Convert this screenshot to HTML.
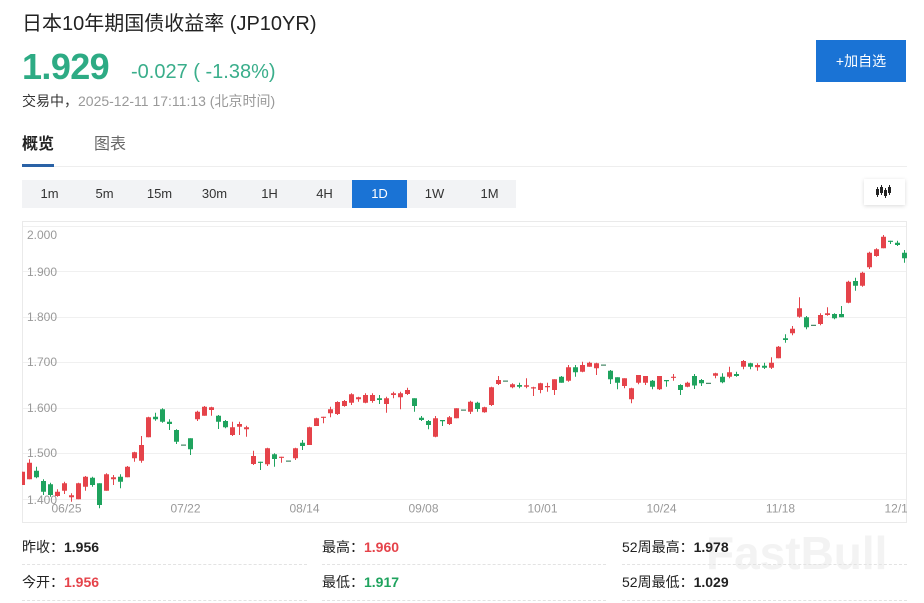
<!DOCTYPE html>
<html><head><meta charset="utf-8">
<style>
*{margin:0;padding:0;box-sizing:border-box}
html,body{width:924px;height:603px;background:#fff;overflow:hidden;font-family:"Liberation Sans","Noto Sans CJK SC",sans-serif;color:#333}
.a{position:absolute;white-space:nowrap}
.tf{position:absolute;top:180px;height:28px;width:55px;text-align:center;line-height:28px;font-size:13px;color:#333}
.st{position:absolute;font-size:14px;line-height:20px;color:#222}
.st b{font-weight:bold}
.dl{position:absolute;height:0;border-top:1px dashed #e3e3e3}
</style></head><body>
<div class="a" style="left:22px;top:12px;font-size:20px;line-height:24px;color:#222">日本10年期国债收益率&nbsp;(JP10YR)</div>
<div class="a" style="left:22px;top:49px;font-size:36px;line-height:36px;font-weight:bold;color:#2dab84;letter-spacing:-0.6px">1.929</div>
<div class="a" style="left:131px;top:62px;font-size:20px;line-height:20px;color:#3aae8b">-0.027 ( -1.38%)</div>
<div class="a" style="left:22px;top:94px;font-size:14px;line-height:14px;color:#999"><span style="color:#333">交易中，</span>2025-12-11 17:11:13 (北京时间)</div>

<div class="a" style="left:816px;top:40px;width:90px;height:42px;background:#1a73d5;color:#fff;font-size:14px;line-height:42px;text-align:center">+加自选</div>

<div class="a" style="left:22px;top:134px;font-size:16px;line-height:22px;font-weight:bold;color:#222">概览</div>
<div class="a" style="left:94px;top:134px;font-size:16px;line-height:22px;color:#666">图表</div>
<div class="a" style="left:22px;top:166px;width:885px;height:1px;background:#eeeeee"></div>
<div class="a" style="left:22px;top:164px;width:32px;height:3px;background:#2a62a6"></div>

<div class="a" style="left:22px;top:180px;width:494px;height:28px;background:#f2f3f5"></div>
<div class="tf" style="left:22px">1m</div>
<div class="tf" style="left:77px">5m</div>
<div class="tf" style="left:132px">15m</div>
<div class="tf" style="left:187px">30m</div>
<div class="tf" style="left:242px">1H</div>
<div class="tf" style="left:297px">4H</div>
<div class="tf" style="left:352px;background:#1a73d5;color:#fff">1D</div>
<div class="tf" style="left:407px">1W</div>
<div class="tf" style="left:462px">1M</div>

<div class="a" style="left:864px;top:179px;width:41px;height:26px;background:#fff;box-shadow:0 1px 4px rgba(0,0,0,0.15)">
<svg width="41" height="26" viewBox="0 0 41 26"><g fill="#222" stroke="#222" stroke-width="1">
<path d="M13.5,8V18M17.5,6V16M21.5,9V19M25.5,6V16"/></g>
<g fill="#222"><rect x="12" y="10" width="3" height="6"/><rect x="16" y="8" width="3" height="6"/><rect x="20" y="11" width="3" height="6"/><rect x="24" y="8" width="3" height="6"/></g></svg></div>

<svg class="a" style="left:0;top:0" width="924" height="603" viewBox="0 0 924 603">
<defs><clipPath id="cp"><rect x="22" y="222" width="885" height="300"/></clipPath></defs>
<rect x="22.5" y="221.5" width="884" height="301" fill="none" stroke="#eaeaea"/>
<g stroke="#f0f0f0" stroke-width="1">
<path d="M23,226.5H906M23,271.5H906M23,317.5H906M23,362.5H906M23,408.5H906M23,453.5H906M23,499.5H906"/>
</g>
<g font-family="Liberation Sans, sans-serif" font-size="12" fill="#999">
<text x="27" y="239">2.000</text>
<text x="27" y="276">1.900</text>
<text x="27" y="321">1.800</text>
<text x="27" y="366">1.700</text>
<text x="27" y="412">1.600</text>
<text x="27" y="457">1.500</text>
<text x="27" y="504">1.400</text>
</g>
<g clip-path="url(#cp)">
<g font-family="Liberation Sans, sans-serif" font-size="12" fill="#999" text-anchor="middle">
<text x="66.5" y="512.5">06/25</text>
<text x="185.5" y="512.5">07/22</text>
<text x="304.5" y="512.5">08/14</text>
<text x="423.5" y="512.5">09/08</text>
<text x="542.5" y="512.5">10/01</text>
<text x="661.5" y="512.5">10/24</text>
<text x="780.5" y="512.5">11/18</text>
<text x="899.5" y="512.5">12/10</text>
</g>
<path fill="none" stroke="#e5434a" stroke-width="1" d="M22.5,471.7V485M29.5,459.3V479.3M57.5,489.3V496.7M64.5,481.7V494M71.5,493.3V501.7M78.5,482.7V499.3M85.5,476V490.7M106.5,473.3V490.7M113.5,475V485M127.5,466V477.3M134.5,451.7V461.7M141.5,436V462.7M148.5,416.7V437.3M197.5,410.7V421M204.5,406V415.7M211.5,406.7V415.7M232.5,421.7V436M239.5,421.7V435M246.5,425.7V436.7M253.5,450.7V465M267.5,447.7V466M281.5,456.7V462.7M295.5,447.7V460M309.5,426.7V445M316.5,417.7V426M323.5,416.7V423.3M330.5,406.7V417.3M337.5,401.3V415M344.5,400V406.7M351.5,393.3V405M358.5,396.7V401.7M365.5,393.3V403.3M372.5,393.3V402.7M386.5,396.7V412.7M393.5,391.7V398.3M400.5,391.7V409.3M407.5,387.7V395M435.5,416V437.3M449.5,416V425M456.5,408.3V418.3M470.5,400.7V414M484.5,406.7V412.7M491.5,386.7V406M498.5,376V385M512.5,383.3V388.3M526.5,378.3V388.3M533.5,386.7V396M540.5,382.7V393.3M547.5,382.7V391.7M554.5,379.3V395M568.5,365V381.7M582.5,361.7V372.3M589.5,361.7V366.7M596.5,362.7V375M624.5,378.3V388.3M631.5,387.7V403.3M638.5,375V384.3M645.5,376V385M659.5,376V390M673.5,374V380.7M687.5,381.7V387.3M715.5,372.7V378.3M729.5,366.7V378.3M743.5,360V369.3M757.5,363.3V370.7M771.5,357.3V369M778.5,346V358.3M792.5,326V335.3M799.5,297.3V317.7M820.5,313.3V325.3M827.5,307.3V315.7M848.5,280.7V303.3M862.5,271.7V286.7M869.5,251.7V269M876.5,248.3V256.7M883.5,235V248.3"/>
<path fill="#e5434a" d="M20,471.7h5v13.3h-5zM27,462.7h5v16.6h-5zM55,491.7h5v4.3h-5zM62,483.3h5v7.4h-5zM69,495.3h5v2h-5zM76,483.3h5v16h-5zM83,476.7h5v10h-5zM104,474.3h5v16.4h-5zM111,477.3h5v2h-5zM125,466.7h5v10.6h-5zM132,452.3h5v6h-5zM139,445h5v15.7h-5zM146,417.3h5v20h-5zM195,411.7h5v7.6h-5zM202,406.7h5v9h-5zM209,407.3h5v2.7h-5zM230,427.3h5v7.7h-5zM237,424h5v2.7h-5zM244,427.3h5v2h-5zM251,456h5v8h-5zM265,448.3h5v16h-5zM279,456.7h5v1.2h-5zM293,448.3h5v10h-5zM307,427.3h5v17.7h-5zM314,418.3h5v7.7h-5zM321,416.7h5v1.2h-5zM328,409.3h5v4h-5zM335,402h5v12h-5zM342,401h5v5h-5zM349,394.3h5v8.4h-5zM356,397.3h5v2h-5zM363,395h5v7.7h-5zM370,395h5v6h-5zM384,398.3h5v5.7h-5zM391,393.3h5v1.7h-5zM398,393.3h5v4h-5zM405,390h5v4h-5zM433,418.3h5v18.4h-5zM447,417.3h5v6.7h-5zM454,408.3h5v10h-5zM468,401.7h5v10h-5zM482,407.3h5v5h-5zM489,387.3h5v17.7h-5zM496,380h5v4h-5zM510,384.3h5v3h-5zM524,385.3h5v1.4h-5zM531,387.3h5v1.2h-5zM538,383.3h5v6.7h-5zM545,386h5v1.3h-5zM552,379.3h5v10.7h-5zM566,367.3h5v13.4h-5zM580,365h5v6.7h-5zM587,362.7h5v4h-5zM594,363.3h5v5h-5zM622,378.3h5v7.7h-5zM629,388.3h5v11h-5zM636,375h5v7.7h-5zM643,376h5v6.7h-5zM657,376h5v13.3h-5zM671,376.7h5v1.2h-5zM685,382.7h5v4h-5zM713,373.3h5v2.4h-5zM727,372.3h5v4.4h-5zM741,361h5v5.7h-5zM755,365h5v2.3h-5zM769,362.7h5v5h-5zM776,346.7h5v11.6h-5zM790,328.7h5v4.6h-5zM797,308.3h5v8.4h-5zM818,315h5v9h-5zM825,313.3h5v1.7h-5zM846,281.7h5v21h-5zM860,272.7h5v13h-5zM867,252.7h5v14.6h-5zM874,249.3h5v6.7h-5zM881,236.7h5v11.6h-5z"/>
<path fill="none" stroke="#1fa35e" stroke-width="1" d="M36.5,466.7V478.3M43.5,479.3V495M50.5,482.7V496.7M92.5,476.7V486.7M99.5,483.3V508.3M120.5,474.3V488.3M155.5,412.7V420.7M162.5,408.3V422.7M169.5,419.3V430M176.5,429.3V444M190.5,438.3V455M218.5,415V429M225.5,420V428.3M260.5,461.7V470M274.5,453.3V466.7M302.5,440V450M379.5,395V404M414.5,398.3V411.7M421.5,416V421M428.5,420V429.3M442.5,420V426M477.5,401.7V411.7M519.5,382.7V388.3M561.5,376V382.7M575.5,365V376.7M610.5,370V384M617.5,377.3V389.3M652.5,380V389.3M666.5,380V386.7M680.5,384.3V395M694.5,374V389M701.5,379V386M722.5,373.3V383.3M736.5,371.7V376.7M750.5,362.7V369.3M764.5,362.7V369M785.5,334.3V342.7M806.5,316V329.3M834.5,313.3V319.3M841.5,306V317.3M855.5,277.7V290.7M890.5,240.7V244M897.5,240.7V246M904.5,250V262.7"/>
<path fill="#1fa35e" d="M34,470.7h5v6.6h-5zM41,481h5v10.7h-5zM48,484.3h5v10.7h-5zM90,477.7h5v7.3h-5zM97,483.3h5v21.7h-5zM118,476.7h5v5h-5zM153,416.7h5v2.6h-5zM160,409.3h5v12.4h-5zM167,421.7h5v2.3h-5zM174,430h5v11.7h-5zM188,438.3h5v11h-5zM216,415.7h5v6h-5zM223,421h5v6.3h-5zM258,461.7h5v1.2h-5zM272,454.3h5v4.7h-5zM300,442.7h5v3.3h-5zM377,398.3h5v1.7h-5zM412,398.3h5v7.7h-5zM419,417.7h5v2.3h-5zM426,421h5v4h-5zM440,420h5v1.2h-5zM475,402.7h5v6.3h-5zM517,385h5v1.7h-5zM559,376.7h5v6h-5zM573,367.3h5v5h-5zM608,370.7h5v8.6h-5zM615,377.3h5v5.4h-5zM650,380.7h5v6h-5zM664,380h5v1.2h-5zM678,385h5v5h-5zM692,376h5v9.5h-5zM699,380h5v3.3h-5zM720,376.7h5v5.6h-5zM734,374h5v2h-5zM748,363.3h5v3.4h-5zM762,365.7h5v2h-5zM783,338.3h5v1.7h-5zM804,317.3h5v10h-5zM832,314h5v4.3h-5zM839,314h5v3.3h-5zM853,281h5v4.7h-5zM888,240.7h5v1.2h-5zM895,242.7h5v2.3h-5zM902,252.7h5v5.6h-5z"/>
<path fill="#4a8a6a" d="M181,444.5h5v1.2h-5zM286,460.5h5v1.2h-5zM461,409.5h5v1.2h-5zM503,380.5h5v1.2h-5zM601,364.5h5v1.2h-5zM706,382.8h5v1.2h-5zM811,324.8h5v1.2h-5z"/>
</g>
</svg>

<div class="a" style="left:706px;top:528px;font-size:46px;line-height:50px;font-weight:bold;color:#f3f3f3;font-family:'Liberation Sans',sans-serif">FastBull</div>

<div class="st" style="left:22px;top:537px">昨收：<b>1.956</b></div>
<div class="st" style="left:322px;top:537px">最高：<b style="color:#e5434a">1.960</b></div>
<div class="st" style="left:622px;top:537px">52周最高：<b>1.978</b></div>
<div class="st" style="left:22px;top:572px">今开：<b style="color:#e5434a">1.956</b></div>
<div class="st" style="left:322px;top:572px">最低：<b style="color:#1fa35e">1.917</b></div>
<div class="st" style="left:622px;top:572px">52周最低：<b>1.029</b></div>
<div class="dl" style="left:22px;top:564px;width:285px"></div>
<div class="dl" style="left:322px;top:564px;width:284px"></div>
<div class="dl" style="left:622px;top:564px;width:285px"></div>
<div class="dl" style="left:22px;top:600px;width:285px"></div>
<div class="dl" style="left:322px;top:600px;width:284px"></div>
<div class="dl" style="left:622px;top:600px;width:285px"></div>
</body></html>
